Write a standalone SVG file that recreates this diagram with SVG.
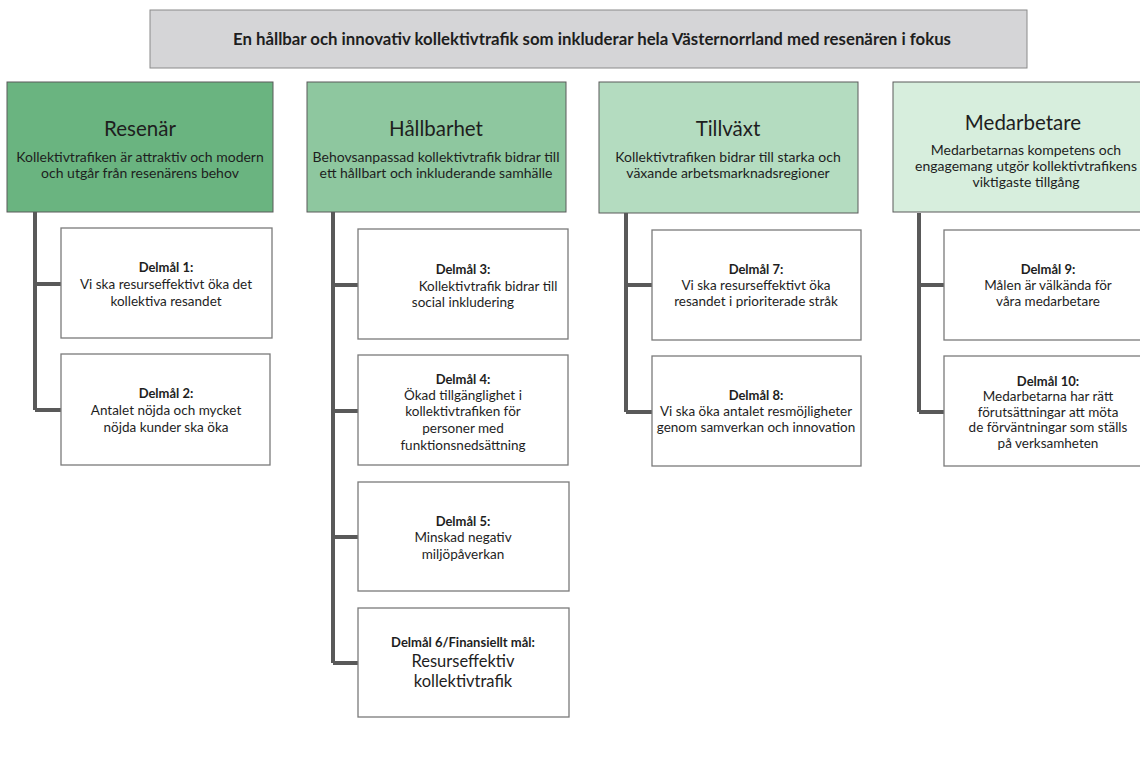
<svg xmlns="http://www.w3.org/2000/svg" width="1140" height="782" viewBox="0 0 1140 782">
<style>
text{font-family:Lato,"Liberation Sans",sans-serif;fill:#1e1e1e;text-anchor:middle}
.banner{fill:#d5d5d7;stroke:#8a8a8a;stroke-width:1}
.hdr{stroke:#5a5a5a;stroke-width:1}
.box{fill:#fff;stroke:#7a7a7a;stroke-width:1.3}
.bt{font-size:16.8px;font-weight:bold}
.ht{font-size:20.5px}
.hs{font-size:14px}
.b{font-size:13px;font-weight:bold}
.t{font-size:13.5px}
.lg{font-size:16.5px}
.conn{stroke:#595959;stroke-width:4;fill:none}
</style>
<rect width="1140" height="782" fill="#fff"/>
<g id="connectors">
<path class="conn" d="M35 212V410M35 284H61M35 410H61"/>
<path class="conn" d="M333 212V663M333 285H358M333 411H358M333 537H358M333 663H358"/>
<path class="conn" d="M626 213V412M626 285H652M626 412H652"/>
<path class="conn" d="M919 213V412M919 285H944M919 412H944"/>
</g>
<g id="vision">
<rect class="banner" x="150" y="10" width="877" height="58"/>
<text class="bt" x="592" y="45">En hållbar och innovativ kollektivtrafik som inkluderar hela Västernorrland med resenären i fokus</text>
</g>
<g id="resenar">
<rect class="hdr" x="7" y="82" width="266" height="130" fill="#6ab480"/>
<text class="ht" x="140" y="136">Resenär</text>
<text class="hs" x="140" y="162">Kollektivtrafiken är attraktiv och modern</text>
<text class="hs" x="140" y="178">och utgår från resenärens behov</text>
</g>
<g id="hallbarhet">
<rect class="hdr" x="307" y="82" width="259" height="130" fill="#8ec79f"/>
<text class="ht" x="436" y="136">Hållbarhet</text>
<text class="hs" x="436" y="162">Behovsanpassad kollektivtrafik bidrar till</text>
<text class="hs" x="436" y="178">ett hållbart och inkluderande samhälle</text>
</g>
<g id="tillvaxt">
<rect class="hdr" x="599" y="82" width="259" height="131" fill="#b4dcc0"/>
<text class="ht" x="728" y="136">Tillväxt</text>
<text class="hs" x="728" y="162">Kollektivtrafiken bidrar till starka och</text>
<text class="hs" x="728" y="178">växande arbetsmarknadsregioner</text>
</g>
<g id="medarbetare">
<rect class="hdr" x="893" y="82" width="260" height="130" fill="#d7eedd"/>
<text class="ht" x="1023" y="130">Medarbetare</text>
<text class="hs" x="1026" y="155">Medarbetarnas kompetens och</text>
<text class="hs" x="1026" y="171">engagemang utgör kollektivtrafikens</text>
<text class="hs" x="1026" y="187">viktigaste tillgång</text>
</g>
<g id="d1">
<rect class="box" x="61" y="228" width="211" height="110"/>
<text class="b" x="166" y="272">Delmål 1:</text>
<text class="t" x="166" y="289">Vi ska resurseffektivt öka det</text>
<text class="t" x="166" y="306">kollektiva resandet</text>
</g>
<g id="d2">
<rect class="box" x="61" y="354" width="209" height="111"/>
<text class="b" x="166" y="398">Delmål 2:</text>
<text class="t" x="166" y="415">Antalet nöjda och mycket</text>
<text class="t" x="166" y="432">nöjda kunder ska öka</text>
</g>
<g id="d3">
<rect class="box" x="358" y="229" width="210" height="110"/>
<text class="b" x="463" y="274">Delmål 3:</text>
<text class="t" x="488" y="291">Kollektivtrafik bidrar till</text>
<text class="t" x="463" y="307">social inkludering</text>
</g>
<g id="d4">
<rect class="box" x="358" y="355" width="210" height="110"/>
<text class="b" x="463" y="384">Delmål 4:</text>
<text class="t" x="463" y="400">Ökad tillgänglighet i</text>
<text class="t" x="463" y="416">kollektivtrafiken för</text>
<text class="t" x="463" y="433">personer med</text>
<text class="t" x="463" y="450">funktionsnedsättning</text>
</g>
<g id="d5">
<rect class="box" x="358" y="482" width="211" height="109"/>
<text class="b" x="463" y="526">Delmål 5:</text>
<text class="t" x="463" y="542">Minskad negativ</text>
<text class="t" x="463" y="559">miljöpåverkan</text>
</g>
<g id="d6">
<rect class="box" x="358" y="608" width="211" height="109"/>
<text class="b" x="463" y="647">Delmål 6/Finansiellt mål:</text>
<text class="lg" x="463" y="667">Resurseffektiv</text>
<text class="lg" x="463" y="687">kollektivtrafik</text>
</g>
<g id="d7">
<rect class="box" x="652" y="230" width="209" height="110"/>
<text class="b" x="756" y="274">Delmål 7:</text>
<text class="t" x="756" y="290">Vi ska resurseffektivt öka</text>
<text class="t" x="756" y="306">resandet i prioriterade stråk</text>
</g>
<g id="d8">
<rect class="box" x="652" y="356" width="209" height="110"/>
<text class="b" x="756" y="400">Delmål 8:</text>
<text class="t" x="756" y="416">Vi ska öka antalet resmöjligheter</text>
<text class="t" x="756" y="432">genom samverkan och innovation</text>
</g>
<g id="d9">
<rect class="box" x="944" y="230" width="210" height="110"/>
<text class="b" x="1048" y="274">Delmål 9:</text>
<text class="t" x="1048" y="290">Målen är välkända för</text>
<text class="t" x="1048" y="306">våra medarbetare</text>
</g>
<g id="d10">
<rect class="box" x="944" y="356" width="210" height="110"/>
<text class="b" x="1048" y="386">Delmål 10:</text>
<text class="t" x="1048" y="401">Medarbetarna har rätt</text>
<text class="t" x="1048" y="417">förutsättningar att möta</text>
<text class="t" x="1048" y="432">de förväntningar som ställs</text>
<text class="t" x="1048" y="448">på verksamheten</text>
</g>
</svg>
